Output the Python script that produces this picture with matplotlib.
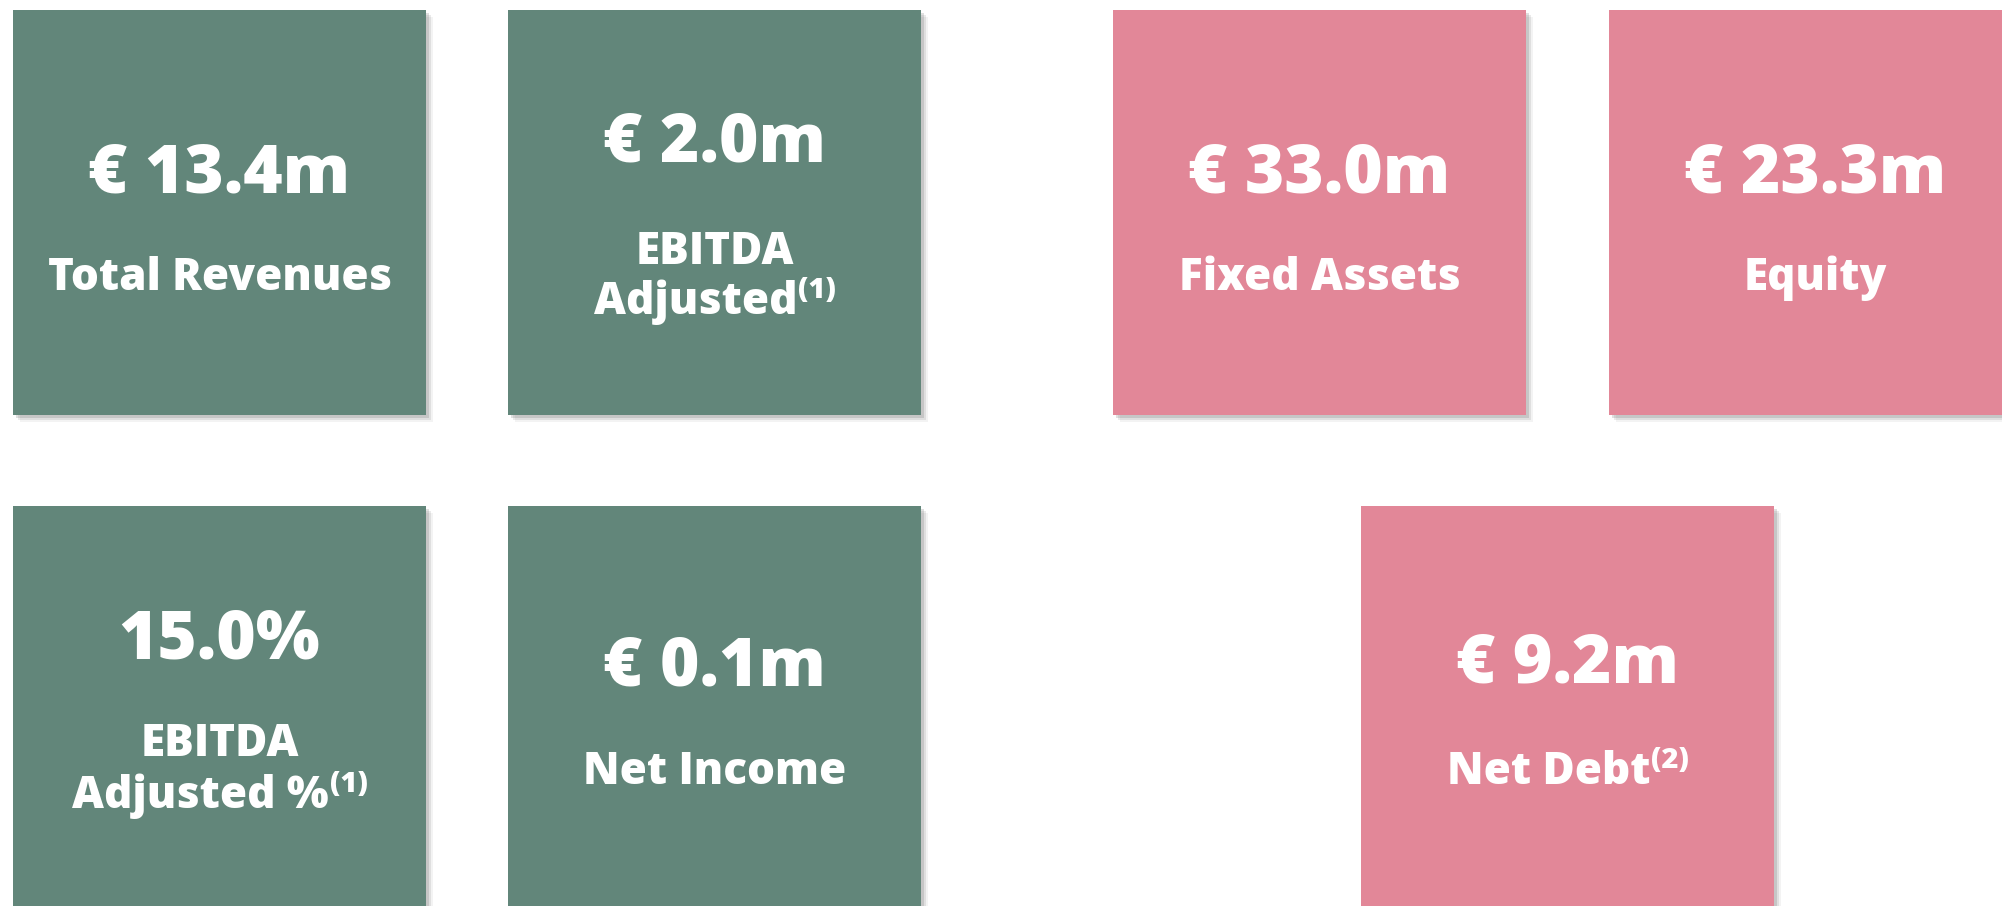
import matplotlib
matplotlib.use("Agg")
import matplotlib.pyplot as plt
from matplotlib.patches import Rectangle

# ---- data ----
values = ["€ 13.4m", "€ 2.0m", "€ 33.0m", "€ 23.3m", "15.0%", "€ 0.1m", "€ 9.2m"]
labels = [["Total Revenues"], ["EBITDA", "Adjusted"], ["Fixed Assets"], ["Equity"],
          ["EBITDA", "Adjusted %"], ["Net Income"], ["Net Debt"]]
footnotes = ["", "(1)", "", "", "(1)", "", "(2)"]
groups = ["pl", "pl", "bs", "bs", "pl", "pl", "bs"]

# ---- layout / style ----
W, H = 2002, 906
DPI = 100
colors = {"pl": "#62867A", "bs": "#E28798"}
box_x = [13, 508, 1113, 1609, 13, 508, 1361]
box_y = [10, 10, 10, 10, 506, 506, 506]
box_w, box_h = 413, 405
val_y = [175, 144, 175, 175, 641, 668, 665]
lab_y = [[278], [252, 302], [278], [278], [745, 796], [772], [772]]

FONT = "Open Sans"
WEIGHT = 800
VAL_SIZE = 48.5
LAB_SIZE = 31.7
SUP_SIZE = 21

fig = plt.figure(figsize=(W / DPI, H / DPI), dpi=DPI)
ax = fig.add_axes([0, 0, 1, 1])
ax.set_xlim(0, W)
ax.set_ylim(H, 0)
ax.axis("off")

for i in range(len(values)):
    x, y = box_x[i], box_y[i]
    # soft shadow
    for k, a in [(7, 0.07), (5, 0.12), (3, 0.18)]:
        ax.add_patch(Rectangle((x + k, y + k), box_w, box_h, color="#555555",
                               alpha=a, lw=0, zorder=1))
    ax.add_patch(Rectangle((x, y), box_w, box_h, color=colors[groups[i]], lw=0, zorder=2))

fig.canvas.draw()
renderer = fig.canvas.get_renderer()


def text_width_px(s, size):
    t = ax.text(0, 0, s, fontsize=size, fontfamily=FONT, fontweight=WEIGHT)
    bb = t.get_window_extent(renderer=renderer)
    t.remove()
    return bb.width


for i in range(len(values)):
    cx = box_x[i] + box_w / 2
    ax.text(cx, val_y[i], values[i], ha="center", va="center", color="white",
            fontsize=VAL_SIZE, fontfamily=FONT, fontweight=WEIGHT, zorder=3)
    lines = labels[i]
    for j, line in enumerate(lines):
        ly = lab_y[i][j]
        is_last = j == len(lines) - 1
        if is_last and footnotes[i]:
            w1 = text_width_px(line, LAB_SIZE)
            w2 = text_width_px(footnotes[i], SUP_SIZE)
            left = cx - (w1 + w2) / 2
            ax.text(left, ly, line, ha="left", va="center", color="white",
                    fontsize=LAB_SIZE, fontfamily=FONT, fontweight=WEIGHT, zorder=3)
            ax.text(left + w1 + 1, ly - 12, footnotes[i], ha="left", va="center",
                    color="white", fontsize=SUP_SIZE, fontfamily=FONT,
                    fontweight=WEIGHT, zorder=3)
        else:
            ax.text(cx, ly, line, ha="center", va="center", color="white",
                    fontsize=LAB_SIZE, fontfamily=FONT, fontweight=WEIGHT, zorder=3)

fig.savefig("out.png", dpi=DPI, facecolor="white")
